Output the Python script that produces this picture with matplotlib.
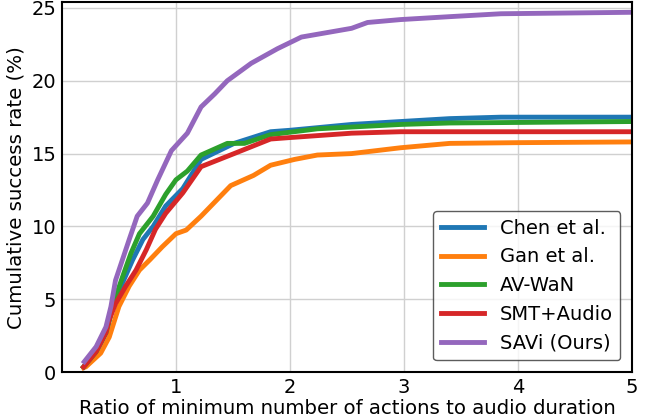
import numpy as np
import matplotlib.pyplot as plt

# values (ratio, cumulative success %)
chen_x = [0.19, 0.30, 0.386, 0.43, 0.47, 0.53, 0.62, 0.71, 0.80, 0.91, 1.06, 1.22, 1.51, 1.83, 2.0, 2.54, 2.97, 3.4, 3.85, 5.0]
chen_y = [0.35, 1.4, 2.7, 4.0, 4.9, 6.1, 7.7, 9.1, 10.0, 11.4, 12.6, 14.6, 15.7, 16.5, 16.6, 17.0, 17.2, 17.4, 17.5, 17.5]

gan_x = [0.19, 0.21, 0.34, 0.415, 0.50, 0.59, 0.68, 0.77, 0.88, 1.0, 1.09, 1.22, 1.48, 1.68, 1.83, 2.04, 2.24, 2.54, 2.97, 3.4, 4.0, 5.0]
gan_y = [0.3, 0.36, 1.3, 2.4, 4.5, 5.9, 7.0, 7.7, 8.6, 9.5, 9.75, 10.7, 12.8, 13.5, 14.2, 14.6, 14.9, 15.0, 15.4, 15.7, 15.75, 15.8]

avwan_x = [0.19, 0.30, 0.386, 0.43, 0.46, 0.53, 0.605, 0.68, 0.80, 0.91, 1.0, 1.10, 1.22, 1.45, 1.60, 1.83, 2.24, 2.97, 3.4, 5.0]
avwan_y = [0.35, 1.4, 2.7, 4.0, 4.9, 6.5, 8.15, 9.5, 10.7, 12.2, 13.2, 13.8, 14.9, 15.7, 15.7, 16.3, 16.7, 17.0, 17.1, 17.2]

smt_x = [0.19, 0.30, 0.386, 0.415, 0.47, 0.56, 0.65, 0.74, 0.78, 0.82, 0.91, 1.06, 1.22, 1.51, 1.83, 2.0, 2.54, 2.97, 5.0]
smt_y = [0.35, 1.4, 2.7, 3.6, 4.7, 5.9, 7.0, 8.4, 9.1, 9.8, 10.9, 12.3, 14.1, 15.0, 16.0, 16.1, 16.4, 16.5, 16.5]

savi_x = [0.196, 0.30, 0.386, 0.43, 0.47, 0.53, 0.59, 0.66, 0.75, 0.84, 0.96, 1.10, 1.22, 1.34, 1.45, 1.66, 1.89, 2.1, 2.54, 2.68, 2.97, 3.4, 3.85, 5.0]
savi_y = [0.71, 1.74, 3.1, 4.5, 6.3, 7.7, 9.1, 10.7, 11.6, 13.2, 15.2, 16.4, 18.2, 19.1, 20.0, 21.2, 22.2, 23.0, 23.6, 24.0, 24.2, 24.4, 24.6, 24.7]

labels = ['Chen et al.', 'Gan et al.', 'AV-WaN', 'SMT+Audio', 'SAVi (Ours)']
series = [(chen_x, chen_y), (gan_x, gan_y), (avwan_x, avwan_y), (smt_x, smt_y), (savi_x, savi_y)]
colors = ['#1f77b4', '#ff7f0e', '#2ca02c', '#d62728', '#9467bd']

fig = plt.figure(figsize=(6.45, 4.19), dpi=100)
ax = fig.add_axes([0.096, 0.112, 0.884, 0.883])

for (x, y), lab, c in zip(series, labels, colors):
    ax.plot(x, y, color=c, linewidth=3.5, label=lab)

ax.set_xlim(0, 5)
ax.set_ylim(0, 25.4)
ax.set_xticks([1, 2, 3, 4, 5])
ax.set_yticks([0, 5, 10, 15, 20, 25])
ax.tick_params(labelsize=14, length=0, pad=4)
ax.grid(True, color='#d0d0d0', linewidth=1)
for s in ax.spines.values():
    s.set_linewidth(1.5)
    s.set_color('black')

ax.set_xlabel('Ratio of minimum number of actions to audio duration', fontsize=14.2, labelpad=2)
ax.set_ylabel('Cumulative success rate (%)', fontsize=14.2, labelpad=4)

leg = ax.legend(loc='lower right', fontsize=14, handlelength=2.2, borderaxespad=0.6)
leg.get_frame().set_edgecolor('#333333')

plt.savefig('out.png', dpi=100)
